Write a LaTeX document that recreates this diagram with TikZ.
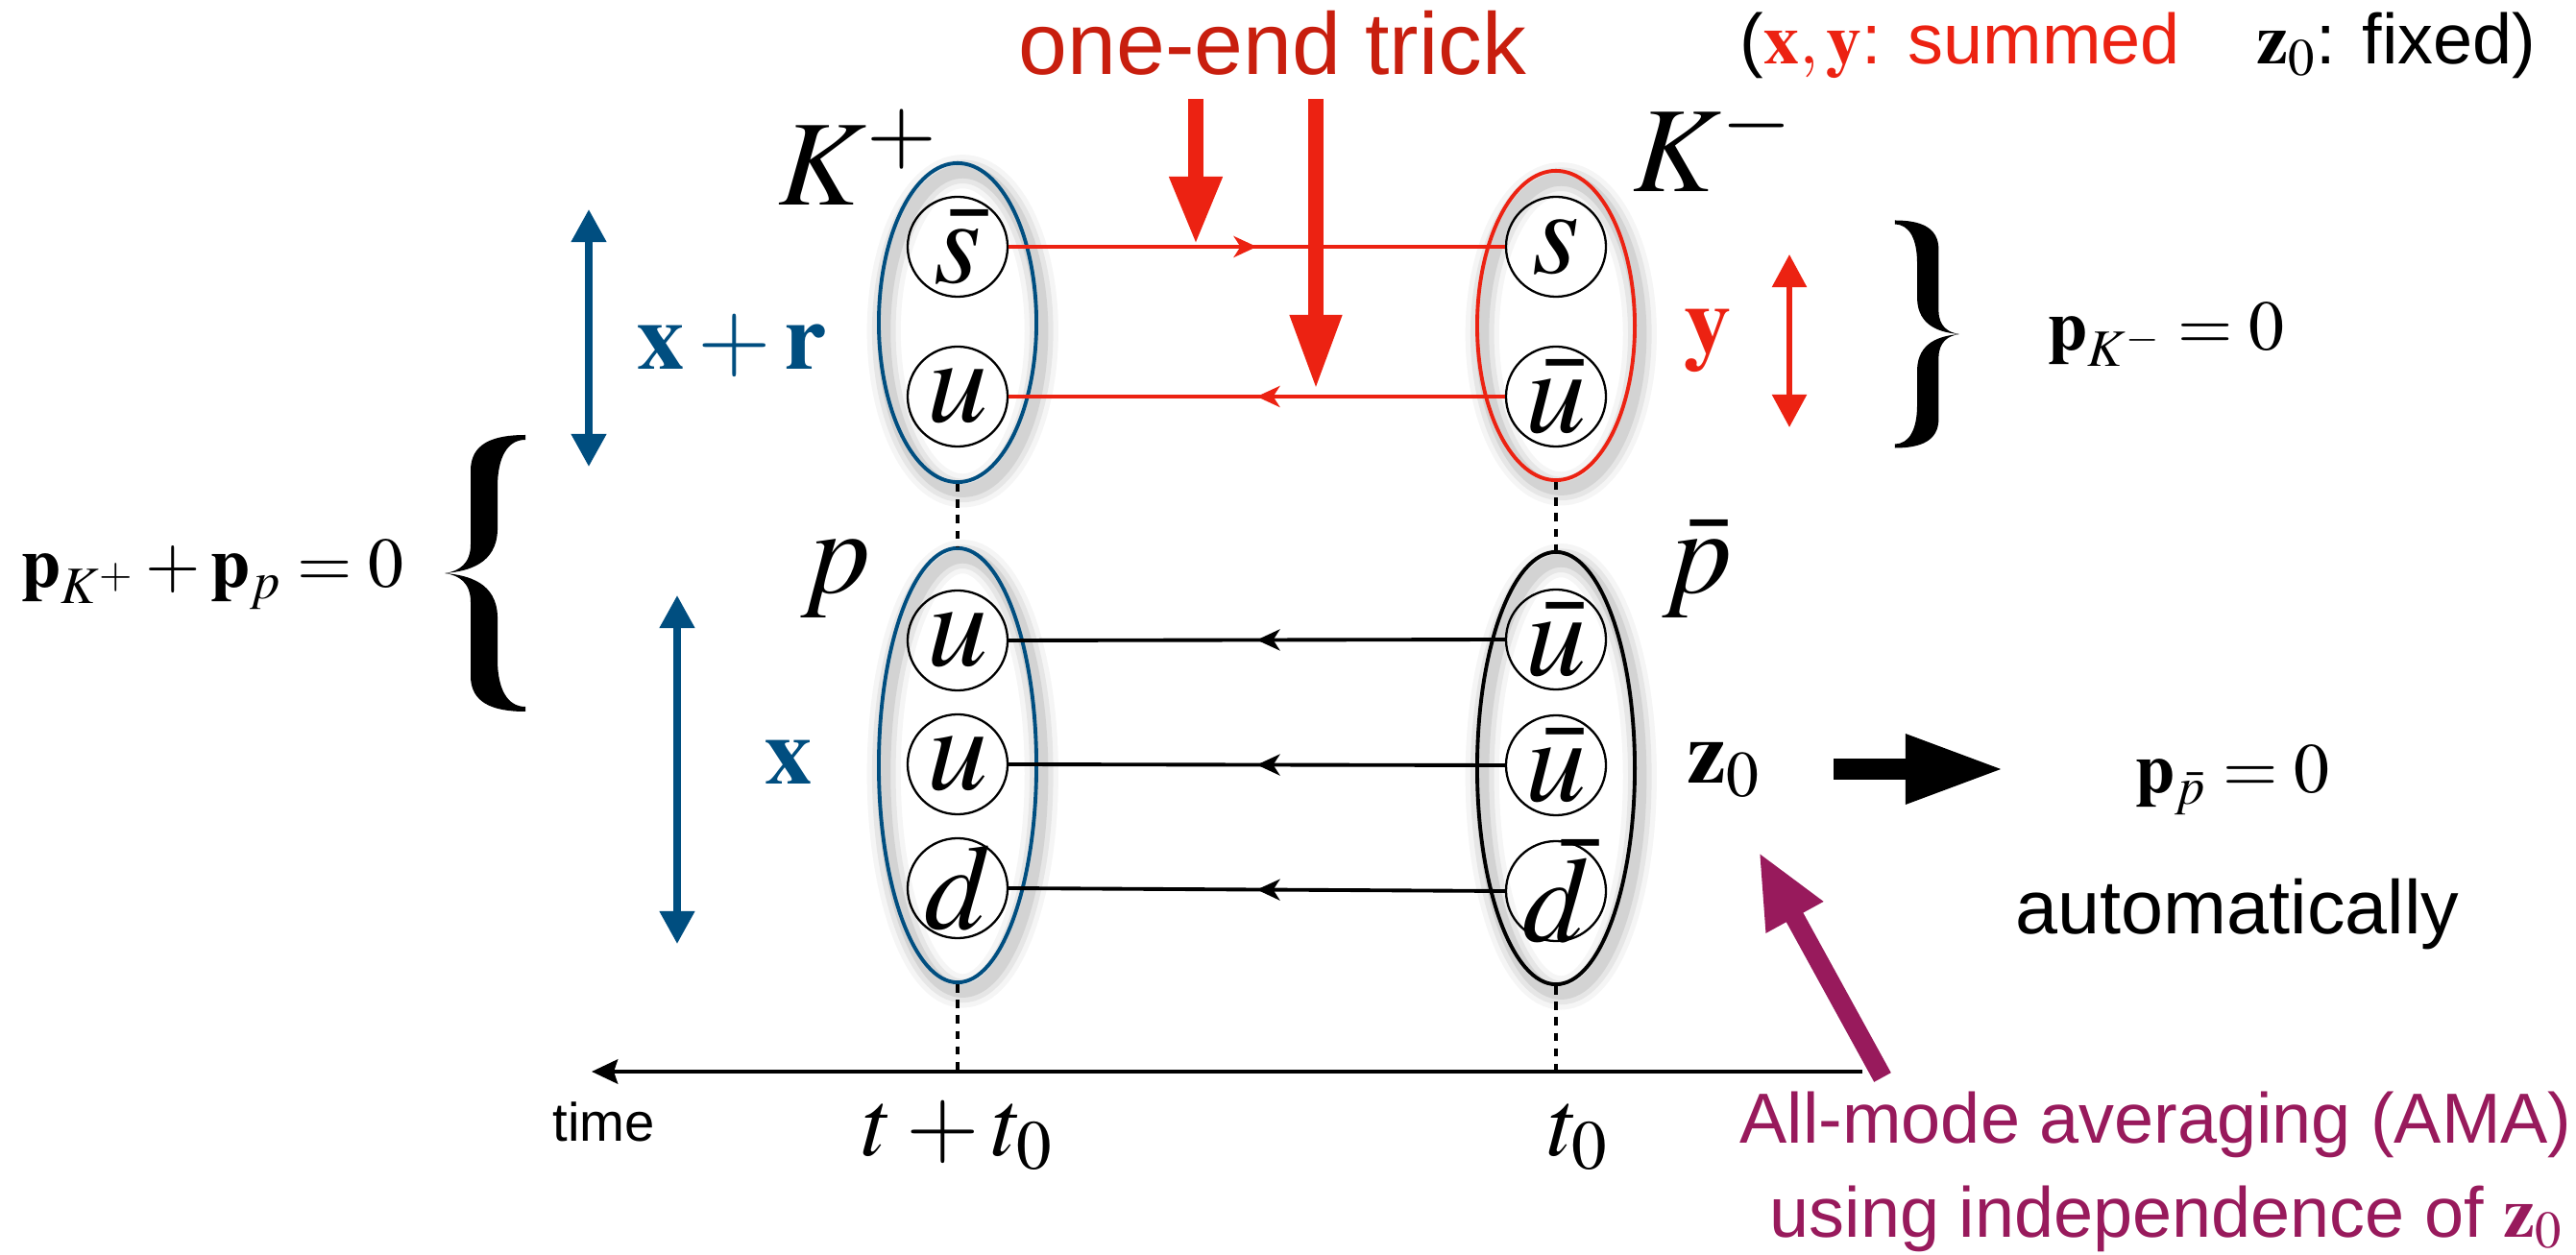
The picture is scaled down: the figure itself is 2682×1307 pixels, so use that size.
\documentclass[tikz,border=0pt]{standalone}
\usepackage{mathptmx}
\usepackage[no-math]{fontspec}
\setmainfont{Liberation Sans}
\usepackage{graphicx}
\usetikzlibrary{arrows.meta,shapes.geometric,decorations.markings}
\definecolor{kblue}{RGB}{0,78,128}
\definecolor{kred}{RGB}{236,34,18}
\definecolor{kredtxt}{RGB}{200,30,14}
\definecolor{kmag}{RGB}{152,26,92}
\newcommand{\fsz}[1]{\fontsize{#1}{#1}\selectfont}
\newcommand{\ellshadow}[3]{%
  \foreach \w/\o in {10pt/0.04, 7pt/0.06, 4pt/0.08}{%
    \draw[line width=\w, black, opacity=\o] ([xshift=1.5pt,yshift=-2.5pt]#1) ellipse [x radius=#2, y radius=#3];}}
\newcommand{\bracefill}{%
  \fill (44,-144) .. controls (10,-144) and (-13,-135) .. (-13,-107)
    -- (-13,-30) .. controls (-13,-10) and (-25,-2) .. (-40,0)
    .. controls (-25,2) and (-13,10) .. (-13,30)
    -- (-13,107) .. controls (-13,135) and (10,144) .. (44,144)
    -- (44,139) .. controls (25,139) and (15,120) .. (15,90)
    -- (15,45) .. controls (14,10) and (-15,2) .. (-40,0)
    .. controls (-15,-2) and (14,-10) .. (15,-45)
    -- (15,-90) .. controls (15,-120) and (25,-139) .. (44,-139) -- cycle;}
\begin{document}
\begin{tikzpicture}[x=0.01cm, y=-0.01cm,
  hadron/.style={ellipse, draw, line width=1.1pt, inner sep=0pt, minimum width=1.64cm},
  quark/.style={circle, draw, line width=0.65pt, minimum size=1.04cm, inner sep=-6pt, font=\fsz{36}},
  qline/.style={line width=1.1pt, postaction={decorate},
    decoration={markings, mark=at position 0.5 with {\arrow{Stealth[length=0.24cm,width=0.22cm,inset=0.07cm]}}}},
  dotline/.style={line width=1.1pt, dash pattern=on 2.4pt off 2.2pt},
  dblarrow/.style={line width=2.1pt, {Triangle[length=0.34cm,width=0.35cm]}-{Triangle[length=0.34cm,width=0.35cm]}},
  lbl/.style={anchor=base west, inner sep=0pt},
  ]
\fill[white] (0,0) rectangle (2682,1307);
\useasboundingbox (0,0) rectangle (2682,1307);

% centres of hadrons
\coordinate (Kpc) at (997,336);
\coordinate (Kmc) at (1620,339);
\coordinate (Pc) at (997,797);
\coordinate (Pbc) at (1620,800);

% shadows
\ellshadow{Kpc}{0.82cm}{1.66cm}
\ellshadow{Kmc}{0.82cm}{1.61cm}
\ellshadow{Pc}{0.82cm}{2.26cm}
\ellshadow{Pbc}{0.82cm}{2.25cm}

% hadrons
\node[hadron, draw=kblue, minimum height=3.32cm] (Kp) at (Kpc) {};
\node[hadron, draw=kred, minimum height=3.22cm] (Km) at (Kmc) {};
\node[hadron, draw=kblue, minimum height=4.52cm] (P) at (Pc) {};
\node[hadron, draw=black, minimum height=4.5cm] (Pb) at (Pbc) {};

% quarks
\node[quark] (q1) at (997,257) {$\bar{s}$};
\node[quark] (q2) at (997,413) {$u$};
\node[quark] (q3) at (1620,257) {$s$};
\node[quark] (q4) at (1620,413) {$\bar{u}$};
\node[quark] (q5) at (997,667) {$u$};
\node[quark] (q6) at (997,796) {$u$};
\node[quark] (q7) at (997,925) {$d$};
\node[quark] (q8) at (1620,666) {$\bar{u}$};
\node[quark] (q9) at (1620,797) {$\bar{u}$};
\node[quark] (q10) at (1620,928) {$\bar{d}$};

% quark lines
\draw[qline, kred] (q1.east) -- (q3.west);
\draw[qline, kred] (q4.west) -- (q2.east);
\draw[qline] (q8.west) -- (q5.east);
\draw[qline] (q9.west) -- (q6.east);
\draw[qline] (q10.west) -- (q7.east);

% time axis
\coordinate (tl) at (616,1116);
\coordinate (tr) at (1939,1116);
\coordinate (a1) at (997,1116);
\coordinate (a2) at (1620,1116);
\draw[dotline] (Kp.south) -- (P.north);
\draw[dotline] (P.south) -- (a1);
\draw[dotline] (Km.south) -- (Pb.north);
\draw[dotline] (Pb.south) -- (a2);
\draw[line width=1.4pt, -{Stealth[length=0.27cm,width=0.25cm,inset=0.04cm]}] (tr) -- (tl);

% one-end trick arrows
\coordinate (r1s) at (1245,103);
\coordinate (r1e) at (1245,255);
\coordinate (r2s) at (1370,103);
\coordinate (r2e) at (1370,406);
\draw[kred, line width=4.6pt, -{Triangle[length=0.71cm,width=0.51cm]}] (r1s) -- (r1e);
\draw[kred, line width=4.6pt, -{Triangle[length=0.78cm,width=0.50cm]}] (r2s) -- (r2e);

% double arrows
\coordinate (xr1) at (613,218);
\coordinate (xr2) at (613,486);
\coordinate (xx1) at (705,620);
\coordinate (xx2) at (705,983);
\coordinate (yy1) at (1863,265);
\coordinate (yy2) at (1863,445);
\draw[dblarrow, kblue] (xr1) -- (xr2);
\draw[dblarrow, kblue] (xx1) -- (xx2);
\draw[dblarrow, kred, line width=1.6pt] (yy1) -- (yy2);

% fat arrows
\coordinate (f1) at (1909,801);
\coordinate (f2) at (2087,801);
\draw[line width=6pt, -{Triangle[length=1.03cm,width=0.67cm]}] (f1) -- (f2);
\coordinate (m1) at (1960,1122);
\coordinate (m2) at (1831,887);
\draw[kmag, line width=5.7pt, -{Triangle[length=0.78cm,width=0.62cm]}] (m1) -- (m2);

% braces
\begin{scope}[shift={(503,597)}]
  \bracefill
\end{scope}
\begin{scope}[shift={(2008,348)}, xscale=-0.8, yscale=0.823]
  \bracefill
\end{scope}

% labels
\node[lbl, font=\fsz{36}] (lKp) at (810,214) {$K^+$};
\node[lbl, font=\fsz{36}] (lKm) at (1700,200) {$K^-$};
\node[lbl, font=\fsz{36}] (lp) at (833,618) {$p$};
\node[lbl, font=\fsz{36}] (lpb) at (1730,618) {$\bar{p}$};
\node[lbl, font=\fsz{28}, text=kblue] (lxr) at (663,385) {$\mathbf{x}+\mathbf{r}$};
\node[lbl, font=\fsz{28}, text=kblue] (lx) at (796,817) {$\mathbf{x}$};
\node[lbl, font=\fsz{28}, text=kred] (ly) at (1753,368) {$\mathbf{y}$};
\node[lbl, font=\fsz{26}] (lz) at (1756,816) {$\mathbf{z}_0$};
\node[lbl, font=\fsz{21}] (pk1) at (22,612) {$\mathbf{p}_{K^+}+\mathbf{p}_p=0$};
\node[lbl, font=\fsz{21}] (pk2) at (2132,365) {$\mathbf{p}_{K^-}=0$};
\node[lbl, font=\fsz{21}] (pk3) at (2223,826) {$\mathbf{p}_{\bar{p}}=0$};
\node[anchor=base, inner sep=0pt, font=\fsz{28}] (ltt) at (997,1203) {$t+t_0$};
\node[lbl, font=\fsz{28}] (lt0) at (1611,1203) {$t_0$};
\node[lbl, font=\fsz{16}] (ltime) at (575,1188) {time};
\node[lbl, font=\fsz{26}, text=kredtxt] (loet) at (1060,78) {one-end trick};
\node[lbl, font=\fsz{21}] (lsum) at (1811,67) {({\color{kred}$\mathbf{x},\mathbf{y}$: summed}\hspace{0.8cm}$\mathbf{z}_0$: fixed)};
\node[lbl, font=\fsz{22.5}] (lauto) at (2098,972) {automatically};
\node[lbl, font=\fsz{21}, text=kmag] (lama1) at (1811,1190) {All-mode averaging (AMA)};
\node[lbl, font=\fsz{21}, text=kmag] (lama2) at (1842,1288) {using independence of $\mathbf{z}_0$};
\end{tikzpicture}
\end{document}
